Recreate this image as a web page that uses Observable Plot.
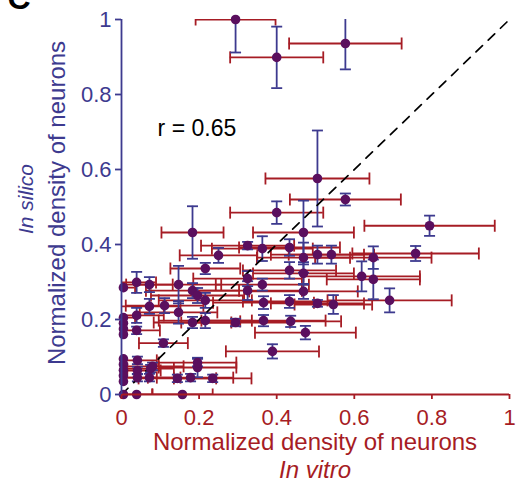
<!DOCTYPE html>
<html>
<head>
<meta charset="utf-8">
<script src="https://cdn.jsdelivr.net/npm/d3@7"></script>
<script src="https://cdn.jsdelivr.net/npm/@observablehq/plot@0.6"></script>
<style>
  html, body { margin: 0; padding: 0; background: #fff; }
  svg { display: block; }
</style>
</head>
<body>
<div id="chart"></div>
<script>
// ---- data ----
const xs = [0.294,0.400,0.577,0.505,0.577,0.400,0.183,0.794,0.469,0.250,
            0.325,0.363,0.433,0.469,0.505,0.541,0.649,0.758,0.216,0.433,
            0.469,0.619,0.649,0.325,0.325,0.363,0.469,0.366,0.433,0.505,
            0.546,0.691,0.366,0.436,0.474,0.389,0.294,0.005,0.039,0.072,
            0.147,0.183,0.196,0.216,0.072,0.111,0.147,0.039,0.005,0.183,
            0.216,0.039,0.108,0.005,0.005,0.005,0.005,0.005,0.005,0.005,
            0.005,0.005,0.041,0.041,0.041,0.075,0.080,0.072,0.144,0.178,
            0.196,0.196,0.235,0.039,0.157];
const ys = [1.000,0.899,0.936,0.576,0.520,0.485,0.432,0.450,0.432,0.371,
            0.397,0.389,0.392,0.365,0.373,0.373,0.365,0.376,0.336,0.331,
            0.323,0.315,0.307,0.309,0.277,0.293,0.275,0.245,0.248,0.243,
            0.240,0.251,0.197,0.195,0.165,0.115,0.192,0.285,0.299,0.293,
            0.293,0.277,0.264,0.251,0.235,0.237,0.219,0.211,0.205,0.192,
            0.197,0.171,0.137,0.190,0.175,0.160,0.095,0.080,0.065,0.050,
            0.035,0.000,0.091,0.064,0.045,0.069,0.075,0.045,0.043,0.045,
            0.072,0.085,0.043,0.000,0.000];
const xErr = [0.103,0.120,0.145,0.134,0.143,0.120,0.080,0.168,0.130,0.100,
              0.120,0.130,0.130,0.120,0.120,0.110,0.150,0.163,0.090,0.120,
              0.130,0.150,0.120,0.140,0.140,0.120,0.140,0.130,0.120,0.120,
              0.100,0.160,0.160,0.130,0.130,0.120,0.140,0.030,0.050,0.060,
              0.110,0.120,0.120,0.120,0.080,0.100,0.100,0.070,0.030,0.100,
              0.120,0.060,0.063,0.000,0.000,0.000,0.000,0.000,0.000,0.000,
              0.000,0.000,0.050,0.060,0.050,0.060,0.080,0.080,0.100,0.110,
              0.100,0.100,0.100,0.041,0.078];
const yErr = [0.088,0.082,0.069,0.128,0.016,0.030,0.070,0.027,0.085,0.020,
              0.010,0.033,0.022,0.040,0.024,0.024,0.030,0.020,0.015,0.022,
              0.030,0.040,0.053,0.020,0.025,0.016,0.020,0.017,0.017,0.009,
              0.025,0.032,0.015,0.015,0.018,0.019,0.010,0.000,0.028,0.020,
              0.050,0.020,0.020,0.020,0.020,0.020,0.030,0.020,0.000,0.015,
              0.020,0.010,0.010,0.000,0.000,0.000,0.000,0.000,0.000,0.000,
              0.000,0.000,0.010,0.010,0.010,0.010,0.010,0.010,0.010,0.010,
              0.026,0.010,0.010,0.000,0.000];
const xTicks = [0, 0.2, 0.4, 0.6, 0.8, 1];
const yTicks = [0, 0.2, 0.4, 0.6, 0.8, 1];
const identityLine = [0, 1];
const annotation = [{x: 0.093, y: 0.709, text: "r = 0.65"}];
const xTitle = "Normalized density of neurons";
const xSubtitle = "In vitro";
const yTitle = "Normalized density of neurons";
const ySubtitle = "In silico";
const panelLabel = "C";

// ---- styles ----
const RED = "#a61c24";
const BLUE = "#3d3a8f";
const PURPLE = "#5a0f5e";
const FONT = "'Liberation Sans', Arial, Helvetica, sans-serif";

const data = xs.map((x, i) => ({x, y: ys[i], xe: xErr[i], ye: yErr[i]}));
const withX = data.filter(d => d.xe > 0);
const withY = data.filter(d => d.ye > 0);

const vCap = {draw(ctx) { ctx.moveTo(0, -6); ctx.lineTo(0, 6); }};
const hCap = {draw(ctx) { ctx.moveTo(-5.5, 0); ctx.lineTo(5.5, 0); }};

const chart = Plot.plot({
  width: 520,
  height: 494,
  marginLeft: 121,
  marginRight: 11,
  marginTop: 19,
  marginBottom: 100,
  style: {fontFamily: FONT, background: "#fff", overflow: "visible"},
  x: {domain: [0, 1]},
  y: {domain: [0, 1]},
  marks: [
    // red (x) error bars
    Plot.ruleY(withX, {y: "y", x1: d => d.x - d.xe, x2: d => d.x + d.xe, stroke: RED, strokeWidth: 1.8, clip: true}),
    Plot.dot(withX, {x: d => d.x - d.xe, y: "y", symbol: vCap, fill: "none", stroke: RED, strokeWidth: 1.8, clip: true}),
    Plot.dot(withX, {x: d => d.x + d.xe, y: "y", symbol: vCap, fill: "none", stroke: RED, strokeWidth: 1.8, clip: true}),
    // blue (y) error bars
    Plot.ruleX(withY, {x: "x", y1: d => d.y - d.ye, y2: d => d.y + d.ye, stroke: BLUE, strokeWidth: 1.8, clip: true}),
    Plot.dot(withY, {x: "x", y: d => d.y - d.ye, symbol: hCap, fill: "none", stroke: BLUE, strokeWidth: 1.8, clip: true}),
    Plot.dot(withY, {x: "x", y: d => d.y + d.ye, symbol: hCap, fill: "none", stroke: BLUE, strokeWidth: 1.8, clip: true}),
    // identity dashed line
    Plot.line(identityLine, {x: d => d, y: d => d, stroke: "#000", strokeWidth: 1.7, strokeDasharray: "9,8"}),
    // points
    Plot.dot(data, {x: "x", y: "y", r: 4.8, fill: PURPLE, stroke: "none"}),
    // annotation
    Plot.text(annotation, {x: "x", y: "y", text: "text", textAnchor: "start", lineAnchor: "middle", fontSize: 23, fill: "#000"}),
    // axes
    Plot.axisX({ticks: xTicks, tickFormat: d => String(d), tickSize: 5, tickPadding: 10, fontSize: 22, color: RED, strokeWidth: 1.8, label: null}),
    Plot.axisY({ticks: yTicks, tickFormat: d => String(d), tickSize: 6, tickPadding: 4, fontSize: 22, color: BLUE, strokeWidth: 1.8, label: null}),
    Plot.ruleY([0], {stroke: RED, strokeWidth: 1.8}),
    Plot.ruleX([0], {stroke: BLUE, strokeWidth: 1.8})
  ]
});

const svg = d3.select(chart);
svg.append("text").attr("x", 315).attr("y", 450).attr("text-anchor", "middle")
  .attr("fill", RED).attr("font-size", 24).attr("font-family", FONT).text(xTitle);
svg.append("text").attr("x", 315).attr("y", 478).attr("text-anchor", "middle")
  .attr("fill", RED).attr("font-size", 24).attr("font-style", "italic").attr("font-family", FONT).text(xSubtitle);
svg.append("text").attr("transform", "translate(65,203) rotate(-90)").attr("text-anchor", "middle")
  .attr("fill", BLUE).attr("font-size", 24).attr("font-family", FONT).text(yTitle);
svg.append("text").attr("transform", "translate(33,199) rotate(-90)").attr("text-anchor", "middle")
  .attr("fill", BLUE).attr("font-size", 21).attr("font-style", "italic").attr("font-family", FONT).text(ySubtitle);
svg.append("text").attr("x", 19).attr("y", 9).attr("fill", "#000").attr("font-size", 32)
  .attr("font-weight", "bold").attr("font-family", FONT).text(panelLabel);

document.getElementById("chart").appendChild(chart);
</script>
</body>
</html>
